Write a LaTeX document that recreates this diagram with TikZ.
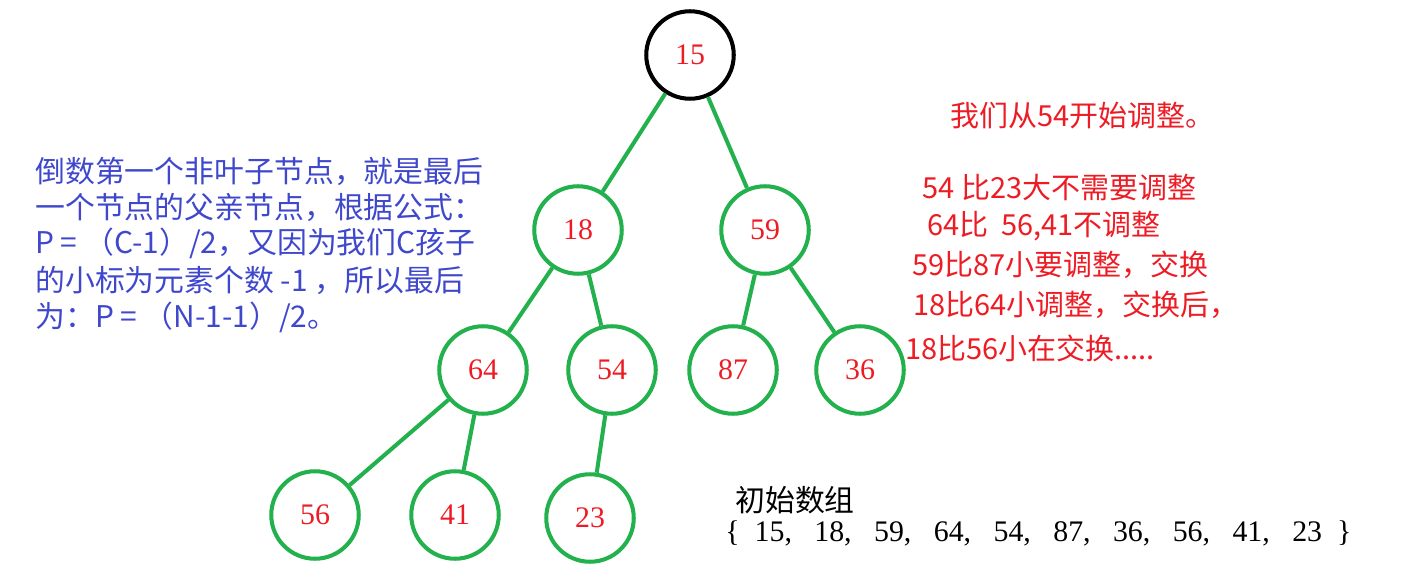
\documentclass[tikz,border=0pt]{standalone}
\usepackage{fontspec}
\setmainfont{Liberation Serif}
\newfontfamily\cjk{Noto Sans CJK SC}
\usetikzlibrary{positioning}
\definecolor{heapgreen}{RGB}{34,177,76}
\definecolor{notered}{RGB}{237,28,36}
\definecolor{noteblue}{RGB}{63,72,204}
\begin{document}
\begin{tikzpicture}[
  x=0.02cm, y=-0.02cm,
  heapnode/.style={circle, draw=heapgreen, line width=2.3pt, minimum size=1.75cm,
                   text=notered, font=\fontsize{17}{19}\selectfont},
  rootnode/.style={heapnode, draw=black},
  edge/.style={draw=heapgreen, line width=2.3pt},
  redline/.style={anchor=west, text=notered, inner sep=0pt, font=\fontsize{16.5}{19}\selectfont\cjk},
  blueline/.style={anchor=west, text=noteblue, inner sep=0pt, font=\fontsize{17}{19}\selectfont\cjk}
]
\useasboundingbox (0,0) rectangle (1405,567);

% ── Heap tree ──
\node[rootnode] (n15) at (690,55) {15};
\node[heapnode] (n18) at (578,230) {18};
\node[heapnode] (n59) at (765,230) {59};
\node[heapnode] (n64) at (483,370) {64};
\node[heapnode] (n54) at (612,370) {54};
\node[heapnode] (n87) at (733,370) {87};
\node[heapnode] (n36) at (860,370) {36};
\node[heapnode] (n56) at (315,515) {56};
\node[heapnode] (n41) at (455,515) {41};
\node[heapnode] (n23) at (590,518) {23};

\draw[edge] (n15) -- (n18);
\draw[edge] (n15) -- (n59);
\draw[edge] (n18) -- (n64);
\draw[edge] (n18) -- (n54);
\draw[edge] (n59) -- (n87);
\draw[edge] (n59) -- (n36);
\draw[edge] (n64) -- (n56);
\draw[edge] (n64) -- (n41);
\draw[edge] (n54) -- (n23);

% ── Left note ──
\node[blueline] (l1) at (35,171) {倒数第一个非叶子节点，就是最后};
\node[blueline] (l2) at (35,207) {一个节点的父亲节点，根据公式：};
\node[blueline] (l3) at (35,243) {P = （C-1）/2，又因为我们C孩子};
\node[blueline] (l4) at (35,280) {的小标为元素个数 -1 ，所以最后};
\node[blueline] (l5) at (35,317) {为：P = （N-1-1）/2。};

% ── Right note ──
\node[redline] (r1) at (950,116) {我们从54开始调整。};
\node[redline] (r2) at (922,187) {54 比23大不需要调整};
\node[redline] (r3) at (927,226) {64比\ \ 56,41不调整};
\node[redline] (r4) at (912,265) {59比87小要调整，交换};
\node[redline] (r5) at (913,305) {18比64小调整，交换后，};
\node[redline] (r6) at (905,348) {18比56小在交换.....};

% ── Array ──
\node[anchor=west, inner sep=0pt, font=\fontsize{17}{19}\selectfont\cjk] (arrtitle) at (735,500) {初始数组};
\node[anchor=west, inner sep=0pt, font=\fontsize{17}{19}\selectfont] (arr) at (725,533)
  {\{\ \ 15,\ \ \ 18,\ \ \ 59,\ \ \ 64,\ \ \ 54,\ \ \ 87,\ \ \ 36,\ \ \ 56,\ \ \ 41,\ \ \ 23\ \ \}};
\end{tikzpicture}
\end{document}
